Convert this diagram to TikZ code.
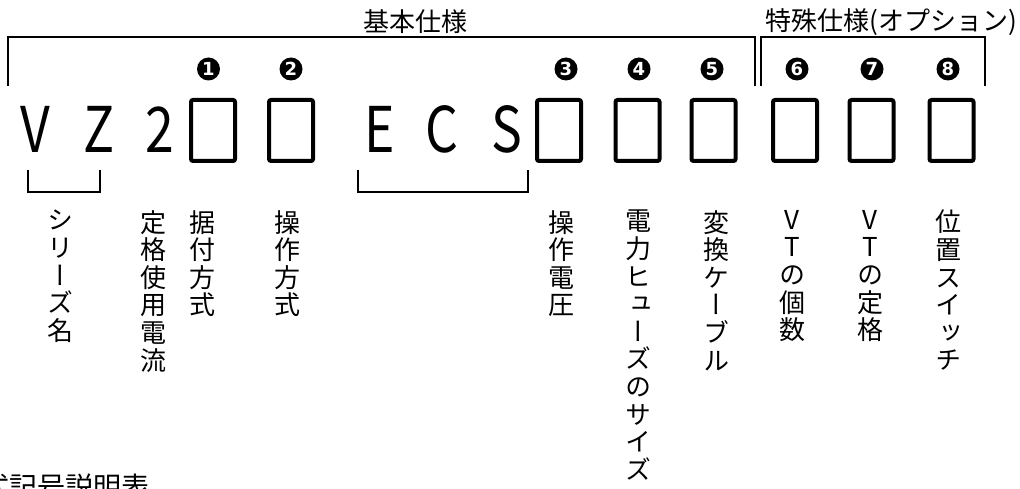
\documentclass[tikz,border=0pt]{standalone}
\usepackage{fontspec}
\newfontfamily\jp{Noto Sans CJK JP}
\newfontfamily\jpv{Noto Sans CJK JP}[RawFeature=+vert]
\newfontfamily\dv{DejaVu Sans}
\newcommand\narrowletter[1]{\scalebox{0.82}[1]{#1}}
\begin{document}
\begin{tikzpicture}[x=1pt,y=-1pt,
 hdr/.style={font=\fontsize{26}{26}\selectfont\jp, inner sep=0},
 letter/.style={font=\fontsize{63}{63}\selectfont\jp, inner sep=0, anchor=base},
 slot/.style={draw, line width=4pt, rounded corners=2pt, minimum width=44pt, minimum height=61pt, inner sep=0},
 num/.style={circle, fill=black, text=white, minimum size=23pt, inner sep=0, font=\fontsize{18}{18}\selectfont\dv\bfseries},
 vlab/.style={font=\fontsize{26}{27.6}\selectfont\jpv, align=center, inner sep=0, anchor=north},
 brk/.style={line width=2.5pt}
]
\useasboundingbox (0,0) rectangle (1020,489);
\clip (0,0) rectangle (1020,489);
% headers
\node[hdr] (basic) at (415,22) {基本仕様};
\node[hdr, anchor=east] (special) at (1017,22) {特殊仕様(オプション)};
% brackets
\draw[brk] (8,86) -- (8,37) -- (755,37) -- (755,86);
\draw[brk] (761,86) -- (761,37) -- (985,37) -- (985,86);
% numbers
\node[num] (n1) at (208.5,69) {1};
\node[num] (n2) at (291,69) {2};
\node[num] (n3) at (566,69) {3};
\node[num] (n4) at (639,69) {4};
\node[num] (n5) at (712,69) {5};
\node[num] (n6) at (797,69) {6};
\node[num] (n7) at (872,69) {7};
\node[num] (n8) at (948,69) {8};
% letters
\node[letter] (lV) at (35,153) {\narrowletter{V}};
\node[letter] (lZ) at (99,153) {\narrowletter{Z}};
\node[letter] (l2) at (160,153) {\narrowletter{2}};
\node[letter] (lE) at (380,153) {\narrowletter{E}};
\node[letter] (lC) at (442,153) {\narrowletter{C}};
\node[letter] (lS) at (507,153) {\narrowletter{S}};
% slots
\node[slot] (b1) at (213,130.5) {};
\node[slot] (b2) at (291,130.5) {};
\node[slot] (b3) at (559,130.5) {};
\node[slot] (b4) at (637.5,130.5) {};
\node[slot] (b5) at (713.5,130.5) {};
\node[slot] (b6) at (795,130.5) {};
\node[slot] (b7) at (871.5,130.5) {};
\node[slot] (b8) at (951.5,130.5) {};
% small brackets
\draw[brk] (28,170) -- (28,192) -- (100,192) -- (100,170);
\draw[brk] (358,170) -- (358,192) -- (528,192) -- (528,170);
% vertical labels
\node[vlab] (t1) at (60,210) {シ\\リ\\ー\\ズ\\名};
\node[vlab] (t2) at (153,210) {定\\格\\使\\用\\電\\流};
\node[vlab] (t3) at (202,210) {据\\付\\方\\式};
\node[vlab] (t4) at (287,210) {操\\作\\方\\式};
\node[vlab] (t5) at (561,210) {操\\作\\電\\圧};
\node[vlab] (t6) at (638,210) {電\\力\\ヒ\\ュ\\ー\\ズ\\の\\サ\\イ\\ズ};
\node[vlab] (t7) at (716,210) {変\\換\\ケ\\ー\\ブ\\ル};
\node[vlab] (t8) at (792,210) {V\\T\\の\\個\\数};
\node[vlab] (t9) at (870,210) {V\\T\\の\\定\\格};
\node[vlab] (t10) at (948,210) {位\\置\\ス\\イ\\ッ\\チ};
% bottom title
\node[hdr, anchor=east, font=\fontsize{28}{28}\selectfont\jp] (title) at (150,487) {形式記号説明表};
\end{tikzpicture}
\end{document}
